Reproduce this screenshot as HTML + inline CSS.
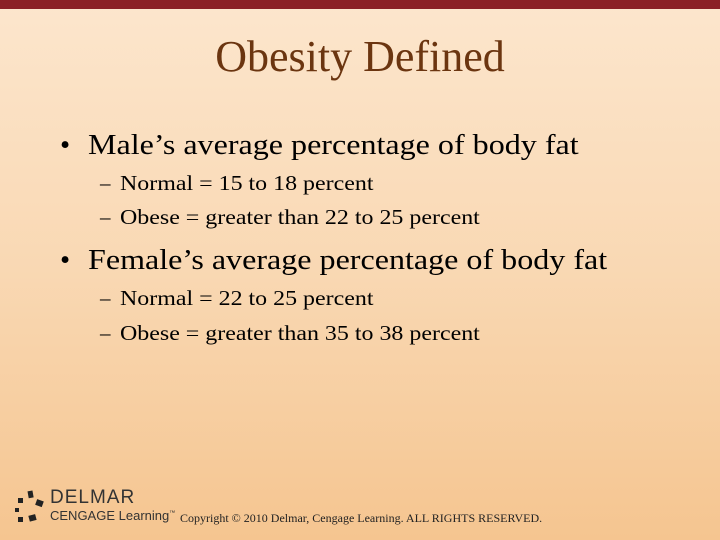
<!DOCTYPE html>
<html><head><meta charset="utf-8"><style>
body{margin:0}
#s{position:relative;width:720px;height:540px;overflow:hidden;background:linear-gradient(180deg,#fce6cd 0%,#f9d8b3 50%,#f5c590 100%);font-family:"Liberation Serif",serif}
.t{position:absolute;white-space:nowrap}
.m{font-size:29px;transform:scaleX(1.106);transform-origin:0 0}
.sb{font-size:21px;transform:scaleX(1.14);transform-origin:0 0}
</style></head><body>
<div id="s">
<div class="t" style="left:0;top:0;width:720px;height:9px;background:#8b2025"></div>
<div class="t" style="left:0;width:720px;text-align:center;top:31px;font-size:44px;color:#6b3510">Obesity Defined</div>
<div class="t" style="left:60px;top:129px;font-size:29px">•</div>
<div class="t m" style="left:88px;top:129px">Male’s average percentage of body fat</div>
<div class="t" style="left:100px;top:171px;font-size:21px">–</div>
<div class="t sb" style="left:120px;top:171px">Normal = 15 to 18 percent</div>
<div class="t" style="left:100px;top:205px;font-size:21px">–</div>
<div class="t sb" style="left:120px;top:205px">Obese = greater than 22 to 25 percent</div>
<div class="t" style="left:60px;top:244px;font-size:29px">•</div>
<div class="t m" style="left:88px;top:244px">Female’s average percentage of body fat</div>
<div class="t" style="left:100px;top:286px;font-size:21px">–</div>
<div class="t sb" style="left:120px;top:286px">Normal = 22 to 25 percent</div>
<div class="t" style="left:100px;top:321px;font-size:21px">–</div>
<div class="t sb" style="left:120px;top:321px">Obese = greater than 35 to 38 percent</div>
<svg class="t" style="left:12px;top:490px" width="36" height="36" viewBox="0 0 36 36">
<rect x="16" y="1" width="5" height="7" fill="#222" transform="rotate(-10 18 4)"/>
<rect x="6" y="8" width="5" height="5" fill="#222"/>
<rect x="24" y="10" width="7" height="6" fill="#222" transform="rotate(20 27 13)"/>
<rect x="3" y="18" width="4" height="4" fill="#222"/>
<rect x="6" y="27" width="5" height="5" fill="#222"/>
<rect x="17" y="25" width="7" height="6" fill="#222" transform="rotate(-15 20 28)"/>
</svg>
<div class="t" style="left:50px;top:487px;font-family:'Liberation Sans',sans-serif;font-size:19px;color:#333;letter-spacing:1px">DELMAR</div>
<div class="t" style="left:50px;top:508px;font-family:'Liberation Sans',sans-serif;font-size:13px;color:#333">CENGAGE Learning<sup style="font-size:6px">™</sup></div>
<div class="t" style="left:180px;top:511px;font-size:12px;color:#222">Copyright © 2010 Delmar, Cengage Learning. ALL RIGHTS RESERVED.</div>
</div>
</body></html>
